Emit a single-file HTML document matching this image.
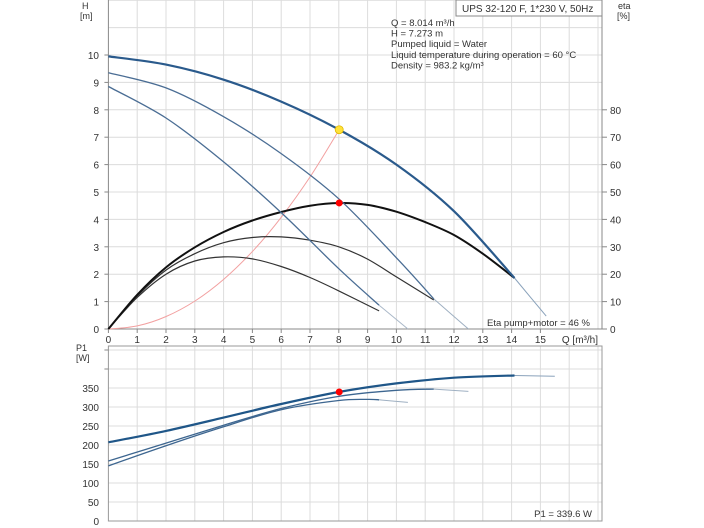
<!DOCTYPE html>
<html><head><meta charset="utf-8"><style>
html,body{margin:0;padding:0;background:#fff}
svg{display:block;font-family:"Liberation Sans",sans-serif}
</style></head><body>
<svg id="c" width="704" height="528" viewBox="0 0 704 528" xmlns="http://www.w3.org/2000/svg"></svg>
<script>
// ---- data ----
const qTicks=[0,1,2,3,4,5,6,7,8,9,10,11,12,13,14,15];
const hTicks=[0,1,2,3,4,5,6,7,8,9,10];
const etaTicks=[0,10,20,30,40,50,60,70,80];
const p1Ticks=[0,50,100,150,200,250,300,350];
const h1Q=[0,2,4,6,8,10,12,14.1], h1V=[9.95,9.65,9.1,8.3,7.28,6.0,4.3,1.86];
const h1tQ=[14.1,15.2], h1tV=[1.86,0.47];
const h2Q=[0,2,4,6,8,10,11.3], h2V=[9.35,8.8,7.75,6.4,4.75,2.6,1.1];
const h2tQ=[11.3,12.5], h2tV=[1.1,0];
const h3Q=[0,2,4,6,8,9.4], h3V=[8.85,7.7,6.1,4.25,2.2,0.87];
const h3tQ=[9.4,10.4], h3tV=[0.87,0];
const e1Q=[0,1,2,3,4,5,6,7,8,9,10,11,12,13,14.1], e1V=[0,12.5,22.5,29.8,35.4,39.6,42.7,45,46,45.3,42.8,39,34.3,27.5,18.6];
const e2Q=[0,1,2,3,4,5,6,7,8,9,10,11.3], e2V=[0,12,21.5,27.5,31.5,33.4,33.6,32.4,30,25.5,19,10.6];
const e3Q=[0,1,2,3,4,5,6,7,8,9.4], e3V=[0,11.5,20,24.8,26.3,25.6,22.8,18.8,13.9,6.6];
const p1aQ=[0,2,4,6,8,10,12,14.1], p1aV=[207,237,272,308,339.6,362,377,383];
const p1atQ=[14.1,15.5], p1atV=[383,381];
const p1bQ=[0,2,4,6,8,10,11.3], p1bV=[158,205,252,296,328,344,347];
const p1btQ=[11.3,12.5], p1btV=[347,341];
const p1cQ=[0,2,4,6,8,9,9.4], p1cV=[145,198,248,293,317,320,319];
const p1ctQ=[9.4,10.4], p1ctV=[319,312];
const dutyQ=8.014, dutyH=7.273, dutyEta=46, dutyP1=339.6;

// ---- axes ----
const X0=108.4, XU=28.8;
const sx=q=>X0+q*XU;
const sy=h=>329-h*27.4;
const se=e=>sy(e/10);
const sp=p=>521-p*0.38;
const svg=document.getElementById('c');
const NS='http://www.w3.org/2000/svg';
function mk(t,a,p){const e=document.createElementNS(NS,t);for(const k in a)e.setAttribute(k,a[k]);(p||svg).appendChild(e);return e;}
function txt(x,y,s,anchor,size,fill){const t=mk('text',{x:x,y:y,'font-size':size||10,fill:fill||'#333','text-anchor':anchor||'start'});t.textContent=s;return t;}
function path(qs,vs,fy){
  const P=qs.map((q,i)=>[sx(q),fy(vs[i])]);
  let d='M'+P[0][0].toFixed(1)+','+P[0][1].toFixed(1);
  for(let i=0;i<P.length-1;i++){
    const p0=P[i-1]||P[i],p1=P[i],p2=P[i+1],p3=P[i+2]||p2;
    const c1=[p1[0]+(p2[0]-p0[0])/6,p1[1]+(p2[1]-p0[1])/6];
    const c2=[p2[0]-(p3[0]-p1[0])/6,p2[1]-(p3[1]-p1[1])/6];
    d+='C'+c1.map(v=>v.toFixed(1))+' '+c2.map(v=>v.toFixed(1))+' '+p2.map(v=>v.toFixed(1));
  }
  return d;
}
const XR=602;
const gTop=mk('g',{});


for(let q=1;q<=17;q++) mk('line',{x1:sx(q),x2:sx(q),y1:0,y2:329,stroke:'#dcdcdc','stroke-width':1},gTop);
for(let h=1;h<=12;h++) mk('line',{x1:X0,x2:XR,y1:sy(h),y2:sy(h),stroke:'#dcdcdc','stroke-width':1},gTop);
mk('line',{x1:X0,x2:X0,y1:0,y2:329,stroke:'#888'});
mk('line',{x1:XR,x2:XR,y1:0,y2:329,stroke:'#888'});
mk('line',{x1:X0,x2:XR,y1:329,y2:329,stroke:'#888'});
const gBot=mk('g',{});


for(let q=1;q<=17;q++) mk('line',{x1:sx(q),x2:sx(q),y1:346,y2:521,stroke:'#dcdcdc'},gBot);
for(let p=50;p<=450;p+=50) mk('line',{x1:X0,x2:XR,y1:sp(p),y2:sp(p),stroke:'#dcdcdc'},gBot);
mk('rect',{x:X0,y:346,width:XR-X0,height:175,fill:'none',stroke:'#999'});
qTicks.forEach(q=>{const t=txt(sx(q),343,String(q),'middle',10);mk('line',{x1:sx(q),x2:sx(q),y1:329,y2:333,stroke:'#888'});});
const ql=txt(598,343,'Q [m³/h]','end',10);
hTicks.forEach(h=>{const t=txt(99,sy(h)+4,String(h),'end',10);mk('line',{x1:X0-4,x2:X0,y1:sy(h),y2:sy(h),stroke:'#888'});});
etaTicks.forEach(e=>{const t=txt(610,se(e)+4,String(e),'start',10);mk('line',{x1:XR,x2:XR+5,y1:se(e),y2:se(e),stroke:'#888'});});
p1Ticks.forEach(p=>{const t=txt(99,sp(p)+4,String(p),'end',10);});
[400,450].forEach(p=>mk('line',{x1:X0-4,x2:X0,y1:sp(p),y2:sp(p),stroke:'#888'}));
let t;
t=txt(82,9,'H','start',9);
t=txt(80,19,'[m]','start',9);
t=txt(618,9,'eta','start',9);
t=txt(617,19,'[%]','start',9);
t=txt(76,351,'P1','start',9);
t=txt(76,361,'[W]','start',9);
function curve(q,v,fy,col,w,name){const p=mk('path',{d:path(q,v,fy),fill:'none',stroke:col,'stroke-width':w});}
const sysQ=[],sysV=[];for(let i=0;i<=8;i++){const q=dutyQ*i/8;sysQ.push(q);sysV.push(dutyH*(q/dutyQ)**2);}
curve(sysQ,sysV,sy,'#f2a0a0',1,'system-curve');
curve(h1tQ,h1tV,sy,'#8aa2bb',1,'h-curve-max-tail');
curve(h2tQ,h2tV,sy,'#9fb0c2',1,'h-curve-2-tail');
curve(h3tQ,h3tV,sy,'#aab8c8',1,'h-curve-3-tail');
curve(e3Q,e3V,se,'#333',1.2,'eta-curve-3');
curve(e2Q,e2V,se,'#333',1.2,'eta-curve-2');
curve(e1Q,e1V,se,'#111',2,'eta-curve-max');
curve(h3Q,h3V,sy,'#4a6d94',1.3,'h-curve-3');
curve(h2Q,h2V,sy,'#4a6d94',1.3,'h-curve-2');
curve(h1Q,h1V,sy,'#2a5a8c',2.2,'h-curve-max');
curve(p1ctQ,p1ctV,sp,'#9fb0c2',1,'p1-curve-3-tail');
curve(p1btQ,p1btV,sp,'#9fb0c2',1,'p1-curve-2-tail');
curve(p1atQ,p1atV,sp,'#8aa2bb',1,'p1-curve-max-tail');
curve(p1cQ,p1cV,sp,'#3d6690',1.3,'p1-curve-3');
curve(p1bQ,p1bV,sp,'#3d6690',1.3,'p1-curve-2');
curve(p1aQ,p1aV,sp,'#1f5688',2.2,'p1-curve-max');
let d;
d=mk('circle',{cx:sx(dutyQ),cy:sy(dutyH),r:4,fill:'#ffe23a',stroke:'#e0b800','stroke-width':0.8});
d=mk('circle',{cx:sx(dutyQ),cy:se(dutyEta),r:3.5,fill:'#f00'});
d=mk('circle',{cx:sx(dutyQ),cy:sp(dutyP1),r:3.5,fill:'#f00'});
const lb=mk('rect',{x:456,y:0,width:146,height:16,fill:'#fff',stroke:'#888'});
t=txt(462,12,'UPS 32-120 F, 1*230 V, 50Hz','start',10);
const info=['Q = 8.014 m³/h','H = 7.273 m','Pumped liquid = Water','Liquid temperature during operation = 60 °C','Density = 983.2 kg/m³'];
info.forEach((s,i)=>{const e=txt(391,26+i*10.6,s,'start',9.5);});
t=txt(590,326,'Eta pump+motor = 46 %','end',9.5);
t=txt(592,517,'P1 = 339.6 W','end',9.5);
</script>
</body></html>
